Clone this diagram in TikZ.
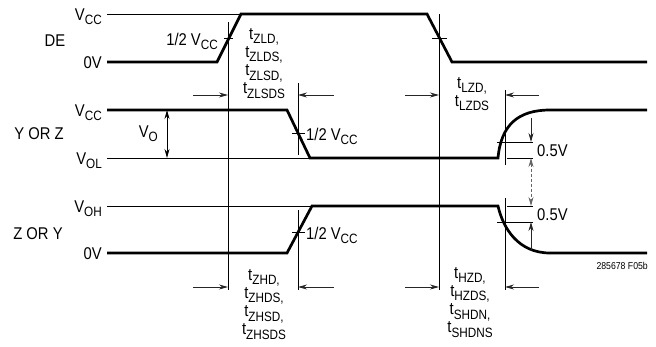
\documentclass[tikz,border=0pt]{standalone}
\usepackage{fontspec}
\setmainfont{Liberation Sans}[FakeStretch=0.87]
\usetikzlibrary{arrows.meta}
\newcommand{\sbs}[1]{\raisebox{-4.5pt}{\fontsize{13.5}{13.5}\selectfont #1}}
\tikzstyle{sig} = [line width=2.7pt, line join=miter]
\tikzstyle{thinline} = [line width=0.8pt]
\tikzstyle{dimarrow} = [line width=0.8pt, black!85, -{Stealth[length=9pt, width=5pt]}]
\tikzstyle{dimboth} = [line width=0.8pt, black!85, {Stealth[length=9pt, width=5pt]}-{Stealth[length=9pt, width=5pt]}]
\tikzstyle{lvl} = [anchor=base east, inner sep=0pt, font=\fontsize{17}{17}\selectfont]
\tikzstyle{signame} = [anchor=base, inner sep=0pt, font=\fontsize{17}{17}\selectfont]
\tikzstyle{tlbl} = [anchor=north, align=center, inner sep=0pt, font=\fontsize{17}{15.8}\selectfont]

\begin{document}
\begin{tikzpicture}[x=1pt, y=-1pt]
\useasboundingbox (0,0) rectangle (656,346);

% signal names and levels
\node [signame] (de) at (55,46) {DE};
\node [signame] (yz) at (39,139) {Y OR Z};
\node [signame] (zy) at (38,239) {Z OR Y};
\node [lvl] (deHi) at (102,20) {V\sbs{CC}};
\node [lvl] (deLo) at (102,68) {0V};
\node [lvl] (yzHi) at (102,116) {V\sbs{CC}};
\node [lvl] (yzLo) at (102,164) {V\sbs{OL}};
\node [lvl] (zyHi) at (102,212) {V\sbs{OH}};
\node [lvl] (zyLo) at (102,259) {0V};

% waveforms
\draw [thinline] (107,14) -- (241,14);
\draw [sig] (107,62) -- (217,62) -- (241,14) -- (427,14) -- (452,62) -- (647,62);
\draw [thinline] (107,158) -- (310,158);
\draw [sig] (107,110) -- (287,110) -- (310,158) -- (498,158)
    .. controls (501,125) and (518,110) .. (550,110) -- (647,110);
\draw [thinline] (107,206) -- (312,206);
\draw [sig] (107,253) -- (287,253) -- (312,206) -- (498,206)
    .. controls (503,228) and (518,253) .. (550,253) -- (647,253);

% timing references
\draw [thinline] (228,22) -- (228,290);
\draw [thinline] (224,38) -- (233,38);
\draw [thinline] (439,14) -- (439,290);
\draw [thinline] (432,38) -- (447,38);
\draw [thinline] (298,83) -- (298,155);
\draw [thinline] (292,133) -- (305,133);
\draw [thinline] (298,210) -- (298,290);
\draw [thinline] (292,232) -- (305,232);
\draw [thinline] (505,90) -- (505,165);
\draw [thinline] (505,198) -- (505,290);
\draw [thinline] (497,142) -- (533,142);
\draw [thinline] (507,158) -- (533,158);
\draw [thinline] (507,206) -- (533,206);
\draw [thinline] (497,222) -- (533,222);

\node [lvl] (halfA) at (218,45) {1/2 V\sbs{CC}};
\node [lvl, anchor=base west] (halfB) at (306,140) {1/2 V\sbs{CC}};
\node [lvl, anchor=base west] (halfC) at (306,239) {1/2 V\sbs{CC}};
\node [lvl, anchor=base west] (halfV1) at (537,156) {0.5V};
\node [lvl, anchor=base west] (halfV2) at (537,220) {0.5V};
\node [lvl] (vo) at (158,137) {V\sbs{O}};

% dimension arrows
\coordinate (voT) at (167,110);
\coordinate (voB) at (167,158);
\draw [dimboth, black] (voT) -- (voB);
\coordinate (ofsA) at (531,118);
\coordinate (ofsB) at (531,142);
\coordinate (ofsC) at (531,158);
\coordinate (ofsD) at (531,206);
\coordinate (ofsE) at (531,250);
\coordinate (ofsF) at (531,222);
\draw [dimarrow] (ofsA) -- (ofsB);
\draw [dimboth, black!60, dashed, dash pattern=on 3pt off 2pt] (ofsC) -- (ofsD);
\draw [dimarrow] (ofsE) -- (ofsF);

\foreach \yy/\nm in {95/top, 287/bot} {
    \coordinate (\nm A) at (193,\yy);
    \coordinate (\nm B) at (228,\yy);
    \coordinate (\nm C) at (334,\yy);
    \coordinate (\nm D) at (298,\yy);
    \coordinate (\nm E) at (405,\yy);
    \coordinate (\nm F) at (439,\yy);
    \coordinate (\nm G) at (539,\yy);
    \coordinate (\nm H) at (505,\yy);
    \draw [dimarrow] (\nm A) -- (\nm B);
    \draw [dimarrow] (\nm C) -- (\nm D);
    \draw [dimarrow] (\nm E) -- (\nm F);
    \draw [dimarrow] (\nm G) -- (\nm H);
}

% timing labels
\node [tlbl] (tzl) at (264,28) {t\sbs{ZLD,}\\t\sbs{ZLDS,}\\t\sbs{ZLSD,}\\t\sbs{ZLSDS}};
\node [tlbl] (tlz) at (472,77) {t\sbs{LZD,}\\t\sbs{LZDS}};
\node [tlbl] (tzh) at (264,269) {t\sbs{ZHD,}\\t\sbs{ZHDS,}\\t\sbs{ZHSD,}\\t\sbs{ZHSDS}};
\node [tlbl] (thz) at (470,267) {t\sbs{HZD,}\\t\sbs{HZDS,}\\t\sbs{SHDN,}\\t\sbs{SHDNS}};

\node [anchor=east, inner sep=0pt, font=\fontsize{10}{10}\selectfont] (fig) at (648,266) {285678 F05b};
\end{tikzpicture}
\end{document}
